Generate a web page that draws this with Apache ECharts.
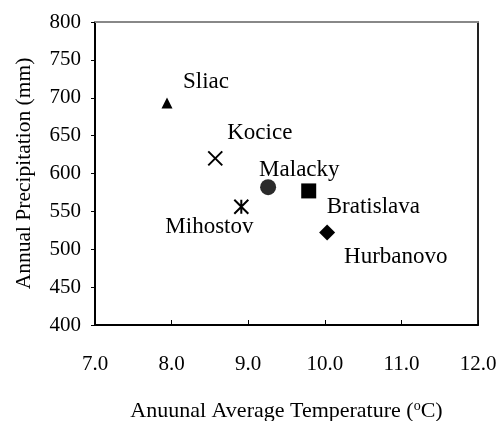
<!DOCTYPE html>
<html>
<head>
<meta charset="utf-8">
<script src="https://cdn.jsdelivr.net/npm/echarts@6/dist/echarts.min.js"></script>
<style>
  html, body { margin: 0; padding: 0; background: #fff; }
  #chart { width: 500px; height: 421px; }
</style>
</head>
<body>
<div id="chart"></div>
<script>
// stations
const stations = ['Sliac', 'Kocice', 'Mihostov', 'Malacky', 'Bratislava', 'Hurbanovo']
const temperature = [7.94, 8.57, 8.91, 9.26, 9.79, 10.03]
const precipitation = [693, 620, 556, 582, 577, 522]
const xTicks = [7, 8, 9, 10, 11, 12]
const yTicks = [400, 450, 500, 550, 600, 650, 700, 750, 800]

// marker look per station
const markers = {
  Sliac: { symbol: 'triangle', size: 11, color: '#000' },
  Kocice: { symbol: 'path://M0,0L10,10M10,0L0,10', size: 14, stroke: true },
  Mihostov: { symbol: 'path://M0,0L10,10M10,0L0,10M5,0L5,10', size: 14, stroke: true },
  Malacky: { symbol: 'circle', size: 16, color: '#2b2b2b' },
  Bratislava: { symbol: 'rect', size: 15, color: '#000' },
  Hurbanovo: { symbol: 'diamond', size: 16, color: '#000' }
}
// where each name sits, from the point centre
const labelOffsets = {
  Sliac: [16, -21],
  Kocice: [12, -25],
  Mihostov: [-76, 20],
  Malacky: [-9, -17],
  Bratislava: [18, 16],
  Hurbanovo: [17, 24]
}

const font = "'Liberation Serif', 'Times New Roman', serif"
const chart = echarts.init(document.getElementById('chart'))

const series = stations.map((name, i) => {
  const m = markers[name]
  return {
    name,
    type: 'scatter',
    symbol: m.symbol,
    symbolSize: m.size,
    itemStyle: m.stroke
      ? { color: 'transparent', borderColor: '#000', borderWidth: 2, opacity: 1 }
      : { color: m.color, opacity: 1 },
    label: {
      show: true,
      formatter: name,
      position: 'inside',
      align: 'left',
      verticalAlign: 'middle',
      offset: labelOffsets[name],
      color: '#000',
      textBorderWidth: 0,
      fontFamily: font,
      fontSize: 23
    },
    emphasis: { disabled: true },
    data: [[temperature[i], precipitation[i]]]
  }
})

chart.setOption({
  backgroundColor: '#fff',
  animation: false,
  textStyle: { fontFamily: font },
  grid: { left: 95, right: 22, top: 22, bottom: 96, outerBoundsMode: 'none' },
  xAxis: [
    {
      type: 'value',
      min: xTicks[0],
      max: xTicks[xTicks.length - 1],
      interval: 1,
      name: '{t|Anuunal Average Temperature (}{sup|o}{t|C)}',
      nameLocation: 'middle',
      nameGap: 74,
      nameTextStyle: {
        rich: {
          t: { fontFamily: font, fontSize: 22, color: '#000' },
          sup: { fontFamily: font, fontSize: 14, color: '#000', padding: [0, 0, 10, 0] }
        }
      },
      axisLine: { lineStyle: { color: '#000', width: 2 } },
      axisTick: { inside: true, length: 5, lineStyle: { color: '#000', width: 1 } },
      axisLabel: {
        margin: 29,
        color: '#000',
        fontFamily: font,
        fontSize: 21,
        formatter: v => v.toFixed(1)
      },
      splitLine: { show: false }
    },
    {
      type: 'value',
      position: 'top',
      min: xTicks[0],
      max: xTicks[xTicks.length - 1],
      axisLine: { show: true, lineStyle: { color: '#888', width: 2 } },
      axisTick: { show: false },
      axisLabel: { show: false },
      splitLine: { show: false }
    }
  ],
  yAxis: [
    {
      type: 'value',
      min: yTicks[0],
      max: yTicks[yTicks.length - 1],
      interval: 50,
      name: 'Annual Precipitation (mm)',
      nameLocation: 'middle',
      nameGap: 60,
      nameTextStyle: { color: '#000', fontFamily: font, fontSize: 21.5 },
      axisLine: { show: true, lineStyle: { color: '#000', width: 2 } },
      axisTick: { show: true, length: 4, lineStyle: { color: '#000', width: 1 } },
      axisLabel: { margin: 14, color: '#000', fontFamily: font, fontSize: 21 },
      splitLine: { show: false }
    },
    {
      type: 'value',
      position: 'right',
      min: yTicks[0],
      max: yTicks[yTicks.length - 1],
      axisLine: { show: true, lineStyle: { color: '#222', width: 2 } },
      axisTick: { show: false },
      axisLabel: { show: false },
      splitLine: { show: false }
    }
  ],
  series
})
</script>
</body>
</html>
